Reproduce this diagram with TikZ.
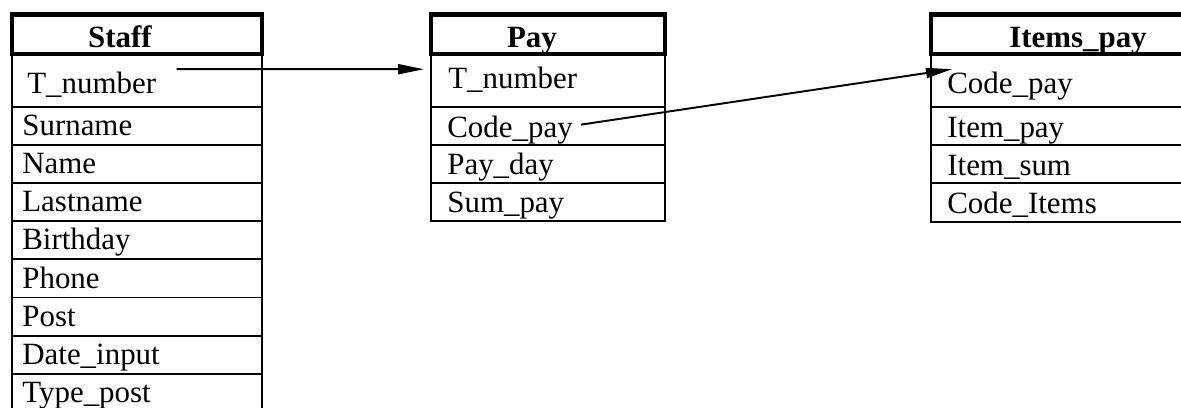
\documentclass[tikz,border=0pt]{standalone}
\usepackage{fontspec}
\setmainfont{Liberation Serif}
\usetikzlibrary{arrows.meta}

\tikzstyle{field}= [anchor=base west,inner sep=0pt,font=\fontsize{17.6}{21}\selectfont]
\tikzstyle{head}= [anchor=base,inner sep=0pt,font=\fontsize{17.6}{21}\selectfont\bfseries]
\tikzstyle{gridline}= [draw=black,line width=1.1pt]
\tikzstyle{headbox}= [draw=black,line width=2.5pt]
\tikzstyle{link}= [black,line width=1.1pt,-{Triangle[length=0.52cm,width=0.2cm]}]

\begin{document}
\begin{tikzpicture}[x=0.02cm,y=-0.02cm]
		\useasboundingbox (0,0) rectangle (1181,407);
		\clip (0,0) rectangle (1181,407);

		% Staff
		\draw[gridline] (12,54) rectangle (262,430);
		\foreach \y in {107,145.1,183.2,221.3,259.4,297.5,335.6,373.7}
			\draw[gridline] (12,\y) -- (262,\y);
		\draw[headbox] (12,14.5) rectangle (262,54);
		\node (staffH) at (120,47) [head] {Staff};

		\node (staffT) at (27,93) [field] {T\_number};
		\node (staff2) at (22,135) [field] {Surname};
		\node (staff3) at (22,173) [field] {Name};
		\node (staff4) at (22,211) [field] {Lastname};
		\node (staff5) at (22,249) [field] {Birthday};
		\node (staff6) at (22,288) [field] {Phone};
		\node (staff7) at (22,326) [field] {Post};
		\node (staff8) at (22,364) [field] {Date\_input};
		\node (staff9) at (22,402) [field] {Type\_post};

		% Pay
		\draw[gridline] (431,54) rectangle (665,221);
		\foreach \y in {107,145,183}
			\draw[gridline] (431,\y) -- (665,\y);
		\draw[headbox] (431,14.5) rectangle (665,54);
		\node (payH) at (532,47) [head] {Pay};

		\node (payT) at (448,88) [field] {T\_number};
		\node (payCode) at (447,137) [field] {Code\_pay};
		\node (payDay) at (447,174) [field] {Pay\_day};
		\node (paySum) at (447,212) [field] {Sum\_pay};

		% Items_pay
		\draw[gridline] (931,54) rectangle (1260,222);
		\foreach \y in {107,145,183}
			\draw[gridline] (931,\y) -- (1260,\y);
		\draw[headbox] (931,14.5) rectangle (1260,54);
		\node (itemsH) at (1078,47) [head] {Items\_pay};

		\node (itemsCode) at (947,93) [field] {Code\_pay};
		\node (items2) at (947,137) [field] {Item\_pay};
		\node (items3) at (947,175) [field] {Item\_sum};
		\node (items4) at (947,213) [field] {Code\_Items};

		\path[link] ([xshift=0.4cm,yshift=0.04cm]staffT.north east) edge[] ([xshift=-0.48cm,yshift=-0.06cm]payT.north west);
		\path[link] ([xshift=0.16cm,yshift=0.1cm]payCode.east) edge[] ([xshift=0.1cm,yshift=0.04cm]itemsCode.north west);

	\end{tikzpicture}
\end{document}
